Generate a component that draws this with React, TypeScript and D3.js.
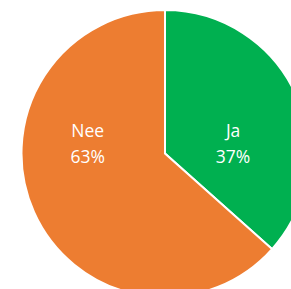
import React from "react";
import * as d3 from "d3";

const categories = ["Ja", "Nee"];
const values = [36.6, 63.4];
const colors = ["#00B050", "#ED7D31"];
const labelRadiusFactor = [0.52, 0.59];

const W = 291;
const H = 289;
const cx = 165;
const cy = 153.5;
const R = 143.5;

export default function App() {
  const pie = d3.pie<number>().sort(null).value((d) => d);
  const arcs = pie(values);
  const arcGen = d3.arc<d3.PieArcDatum<number>>().innerRadius(0).outerRadius(R);
  const total = d3.sum(values);

  return (
    <svg
      width={W}
      height={H}
      style={{ position: "absolute", left: 0, top: 0, background: "#fff" }}
    >
      <g transform={`translate(${cx},${cy})`}>
        {arcs.map((a, i) => (
          <path
            key={i}
            d={arcGen(a) || ""}
            fill={colors[i]}
            stroke="#fff"
            strokeWidth={2}
            strokeLinejoin="miter"
          />
        ))}
        {arcs.map((a, i) => {
          const mid = (a.startAngle + a.endAngle) / 2;
          const x = Math.sin(mid) * R * labelRadiusFactor[i];
          return (
            <text
              key={"t" + i}
              x={x}
              y={-16.3}
              textAnchor="middle"
              fill="#fff"
              fontFamily="'Open Sans', 'Noto Sans', sans-serif"
              fontSize={17.5}
            >
              <tspan x={x}>{categories[i]}</tspan>
              <tspan x={x} dy={25.4}>{Math.round((values[i] / total) * 100) + "%"}</tspan>
            </text>
          );
        })}
      </g>
    </svg>
  );
}
